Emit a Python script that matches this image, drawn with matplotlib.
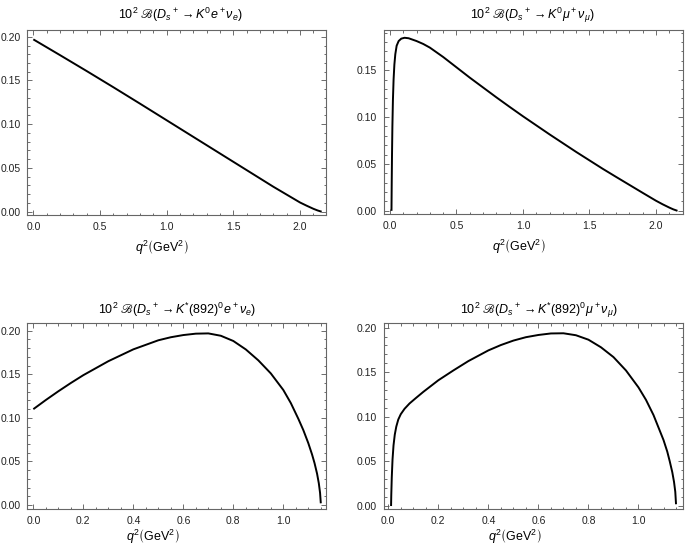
import matplotlib
matplotlib.use("Agg")
import matplotlib.pyplot as plt
from matplotlib.ticker import MultipleLocator, FormatStrFormatter

plt.rcParams['font.family'] = ['Liberation Sans', 'DejaVu Sans']
plt.rcParams['mathtext.fontset'] = 'custom'
plt.rcParams['mathtext.rm'] = 'Liberation Sans'
plt.rcParams['mathtext.it'] = 'Liberation Sans:italic'
plt.rcParams['mathtext.bf'] = 'Liberation Sans:bold'
plt.rcParams['mathtext.fallback'] = 'stix'

# --- data (q^2 in GeV^2, 10^2 dB) ---
q2_ke = [0.0, 0.2, 0.4, 0.6, 0.8, 1.0, 1.2, 1.4, 1.6, 1.7, 1.8, 1.9, 2.0, 2.05, 2.1,
         2.13, 2.15, 2.162]
br_ke = [0.197, 0.179, 0.1608, 0.1423, 0.1235, 0.1045, 0.0855, 0.0665, 0.0475, 0.038,
         0.0285, 0.0195, 0.0105, 0.0068, 0.0033, 0.0015, 0.0005, 0.0]

q2_kmu = [0.0112, 0.013, 0.015, 0.018, 0.022, 0.027, 0.033, 0.04, 0.05, 0.065, 0.085, 0.11,
          0.14, 0.2, 0.25, 0.3, 0.4, 0.5, 0.6, 0.7, 0.8, 0.9, 1.0, 1.2, 1.4, 1.6, 1.7, 1.8,
          1.9, 2.0, 2.05, 2.1, 2.13, 2.15, 2.162]
br_kmu = [0.0, 0.03, 0.058, 0.09, 0.118, 0.140, 0.156, 0.167, 0.176, 0.181, 0.1836, 0.1845,
          0.1840, 0.1810, 0.1779, 0.1740, 0.1640, 0.1530, 0.1420, 0.1315, 0.1210, 0.1108,
          0.1008, 0.0815, 0.0628, 0.0448, 0.0362, 0.0277, 0.0192, 0.0108, 0.0070, 0.0035,
          0.0016, 0.0006, 0.0]

q2_kse = [0.0, 0.05, 0.1, 0.15, 0.2, 0.3, 0.4, 0.5, 0.55, 0.6, 0.65, 0.7, 0.75, 0.8, 0.85,
          0.9, 0.95, 1.0, 1.03, 1.06, 1.08, 1.1, 1.115, 1.125, 1.135, 1.142, 1.147, 1.15]
br_kse = [0.110, 0.1205, 0.1305, 0.140, 0.149, 0.165, 0.1786, 0.189, 0.1925, 0.1950, 0.1966,
          0.1969, 0.1942, 0.1882, 0.1785, 0.166, 0.151, 0.132, 0.117, 0.099, 0.086, 0.071,
          0.058, 0.048, 0.036, 0.025, 0.014, 0.002]

q2_ksmu = [0.0112, 0.012, 0.014, 0.017, 0.021, 0.026, 0.032, 0.04, 0.05, 0.065, 0.085, 0.11,
           0.14, 0.2, 0.26, 0.32, 0.4, 0.45, 0.5, 0.55, 0.6, 0.65, 0.7, 0.75, 0.8, 0.85, 0.9,
           0.95, 1.0, 1.03, 1.06, 1.08, 1.1, 1.115, 1.125, 1.135, 1.142, 1.147, 1.15]
br_ksmu = [0.0, 0.012, 0.032, 0.052, 0.068, 0.080, 0.089, 0.097, 0.103, 0.109, 0.115, 0.121,
           0.128, 0.141, 0.1520, 0.1625, 0.1745, 0.1805, 0.1855, 0.1893, 0.1918, 0.1935,
           0.1937, 0.1915, 0.1865, 0.178, 0.167, 0.152, 0.133, 0.119, 0.102, 0.088, 0.074,
           0.061, 0.050, 0.038, 0.027, 0.016, 0.002]

titles = [r'$10^2\ ℬ(D_s{}^+ \to K^0 e^+ \nu_e)$',
          r'$10^2\ ℬ(D_s{}^+ \to K^0 \mu^+ \nu_\mu)$',
          r'$10^2\ ℬ(D_s{}^+ \to K^{*}(892)^0 e^+ \nu_e)$',
          r'$10^2\ ℬ(D_s{}^+ \to K^{*}(892)^0 \mu^+ \nu_\mu)$']
xlabel = r'$q^2\left(\mathrm{GeV}^{2}_{\ }\right)$'

panels = [
    dict(x=q2_ke, y=br_ke, pos=[0.0399, 0.6126, 0.4361, 0.3333], xlim=(-0.045, 2.195),
         ylim=(-0.0038, 0.2077), xmaj=0.5, xmin=0.1, tpos=(0.511, 1.081), lpos=(0.451, -0.178)),
    dict(x=q2_kmu, y=br_kmu, pos=[0.5606, 0.6137, 0.4358, 0.3326], xlim=(-0.045, 2.20),
         ylim=(-0.0038, 0.193), xmaj=0.5, xmin=0.1, tpos=(0.496, 1.08), lpos=(0.452, -0.178)),
    dict(x=q2_kse, y=br_kse, pos=[0.0399, 0.0834, 0.4361, 0.3341], xlim=(-0.024, 1.171),
         ylim=(-0.0042, 0.2085), xmaj=0.2, xmin=0.05, tpos=(0.501, 1.072), lpos=(0.42, -0.153)),
    dict(x=q2_ksmu, y=br_ksmu, pos=[0.5606, 0.0834, 0.4358, 0.3341], xlim=(-0.017, 1.176),
         ylim=(-0.003, 0.2049), xmaj=0.2, xmin=0.05, tpos=(0.518, 1.072), lpos=(0.439, -0.153)),
]

fig = plt.figure(figsize=(6.85, 5.55), dpi=100)

for p, title in zip(panels, titles):
    ax = fig.add_axes(p['pos'])
    ax.plot(p['x'], p['y'], color='black', lw=1.4, solid_capstyle='butt', solid_joinstyle='round')
    ax.set_xlim(*p['xlim'])
    ax.set_ylim(*p['ylim'])
    ax.xaxis.set_major_locator(MultipleLocator(p['xmaj']))
    ax.xaxis.set_minor_locator(MultipleLocator(p['xmin']))
    ax.yaxis.set_major_locator(MultipleLocator(0.05))
    ax.yaxis.set_minor_locator(MultipleLocator(0.01))
    ax.xaxis.set_major_formatter(FormatStrFormatter('%.1f'))
    ax.yaxis.set_major_formatter(FormatStrFormatter('%.2f'))
    ax.tick_params(which='both', direction='in', top=True, right=True,
                   color='#555555', width=0.6, labelsize=7.5, labelcolor='#222222', pad=5)
    ax.tick_params(which='major', length=3.5)
    ax.tick_params(which='minor', length=1.8)
    for s in ax.spines.values():
        s.set_color('#666666')
        s.set_linewidth(0.8)
    ax.text(*p['tpos'], title, transform=ax.transAxes, ha='center', va='center', fontsize=9)
    ax.text(*p['lpos'], xlabel, transform=ax.transAxes, ha='center', va='center', fontsize=9)

fig.savefig('out.png', dpi=100)
